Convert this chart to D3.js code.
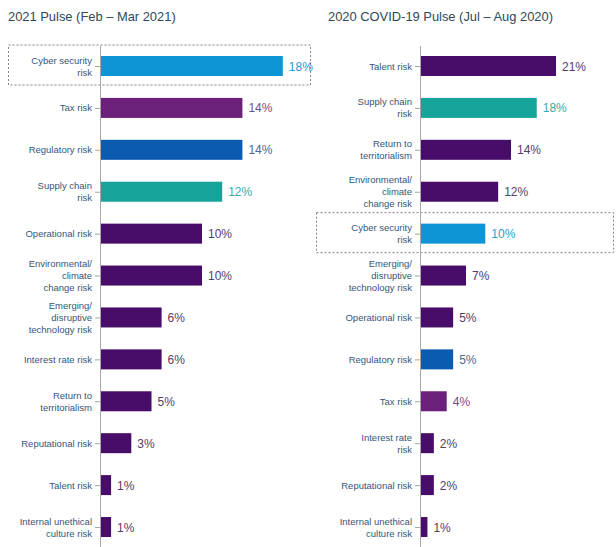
<!DOCTYPE html>
<html><head><meta charset="utf-8">
<script src="https://cdn.jsdelivr.net/npm/d3@7"></script>
<style>body{margin:0;background:#fff;font-family:"Liberation Sans",Arial,sans-serif;}</style>
</head><body>
<svg id="chart" width="616" height="547"></svg>
<script>
const titleLeft = "2021 Pulse (Feb – Mar 2021)";
const titleRight = "2020 COVID-19 Pulse (Jul – Aug 2020)";
const leftCategories = ["Cyber security\nrisk","Tax risk","Regulatory risk","Supply chain\nrisk","Operational risk","Environmental/\nclimate\nchange risk","Emerging/\ndisruptive\ntechnology risk","Interest rate risk","Return to\nterritorialism","Reputational risk","Talent risk","Internal unethical\nculture risk"];
const leftValues = [18,14,14,12,10,10,6,6,5,3,1,1];
const rightCategories = ["Talent risk","Supply chain\nrisk","Return to\nterritorialism","Environmental/\nclimate\nchange risk","Cyber security\nrisk","Emerging/\ndisruptive\ntechnology risk","Operational risk","Regulatory risk","Tax risk","Interest rate\nrisk","Reputational risk","Internal unethical\nculture risk"];
const rightValues = [21,18,14,12,10,7,5,5,4,2,2,1];
const highlighted = "Cyber security\nrisk";

const barColors = {"Cyber security\nrisk":"#0d95d6","Tax risk":"#6b2079","Regulatory risk":"#0b5cb0","Supply chain\nrisk":"#16a399"};
const labelColors = {"Cyber security\nrisk":"#2a9ad4","Tax risk":"#7a4b8a","Regulatory risk":"#4a6a92","Supply chain\nrisk":"#3aa8a2"};
const defBar = "#480d69", defLabel = "#5a3a6c";

const svg = d3.select("#chart");

function panel(title, cats, vals, opt){
  const g = svg.append("g");
  g.append("text").attr("x", opt.titleX).attr("y", 21).attr("font-size", 12.9).attr("fill", "#2b4a5c").text(title);
  const y = d3.scalePoint().domain(d3.range(cats.length)).range([66, 527]);
  const x = d3.scaleLinear().domain([0, 20]).range([opt.axisX, opt.axisX + opt.pxPer * 20]);
  const hi = cats.indexOf(highlighted);
  g.append("rect").attr("x", opt.box[0]).attr("y", y(hi) - 21).attr("width", opt.box[1]).attr("height", 40)
    .attr("fill", "none").attr("stroke", "#8a7f8a").attr("stroke-width", 1).attr("stroke-dasharray", "2,2");
  const bh = 20;
  g.selectAll("rect.bar").data(vals).join("rect").attr("class","bar")
    .attr("x", x(0) + 1).attr("y", (d,i) => y(i) - bh/2)
    .attr("width", d => x(d) - x(0)).attr("height", bh)
    .attr("fill", (d,i) => barColors[cats[i]] || defBar);
  g.append("line").attr("x1", x(0) + 0.5).attr("x2", x(0) + 0.5).attr("y1", 46).attr("y2", 547)
    .attr("stroke", "#a8a8a8").attr("stroke-width", 1);
  g.selectAll("line.tick").data(cats).join("line").attr("class","tick")
    .attr("x1", x(0) - 5).attr("x2", x(0)).attr("y1", (d,i)=>y(i)+0.5).attr("y2",(d,i)=>y(i)+0.5)
    .attr("stroke", "#a8a8a8");
  g.selectAll("text.val").data(vals).join("text").attr("class","val")
    .attr("x", d => x(d) + 7).attr("y", (d,i) => y(i) + 4.5)
    .attr("font-size", 12).attr("fill", (d,i) => labelColors[cats[i]] || defLabel)
    .text(d => d + "%");
  cats.forEach((c, i) => {
    const lines = c.split("\n");
    const t = g.append("text").attr("x", x(0) - 8).attr("text-anchor", "end")
      .attr("font-size", 9.5).attr("fill", "#36557a");
    const lh = 12;
    const y0 = y(i) - (lines.length - 1) * lh / 2 + 3.5;
    lines.forEach((l, k) => t.append("tspan").attr("x", x(0) - 8).attr("y", y0 + k * lh).text(l));
  });
}

panel(titleLeft, leftCategories, leftValues, {titleX: 8, axisX: 100, pxPer: 10.1, box: [8.5, 302]});
panel(titleRight, rightCategories, rightValues, {titleX: 328, axisX: 420, pxPer: 6.43, box: [316.5, 297]});
</script>
</body></html>
